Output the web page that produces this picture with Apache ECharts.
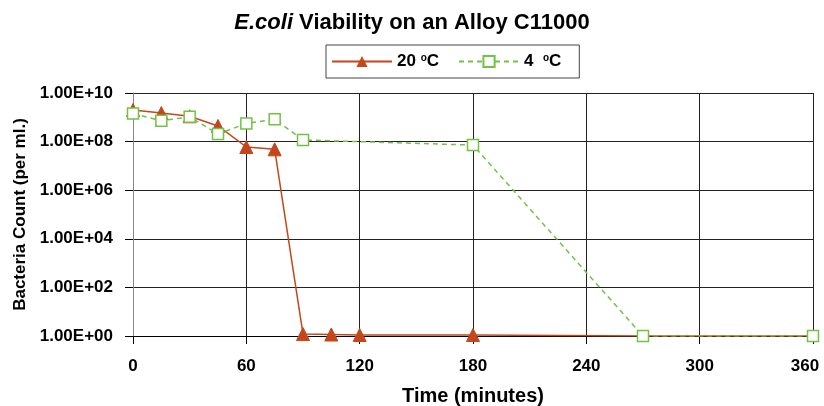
<!DOCTYPE html>
<html><head><meta charset="utf-8">
<script src="https://cdn.jsdelivr.net/npm/echarts@6/dist/echarts.min.js"></script>
<style>html,body{margin:0;padding:0;background:#fff}#c{width:824px;height:406px}</style>
</head><body><div id="c"></div>
<script>
const timesWarm = [0, 15, 30, 45, 60, 75, 90, 105, 120, 180, 270, 360];
const countsWarm = [2.0e9, 1.5e9, 1.1e9, 4.4e8, 6.0e7, 4.8e7, 1.2, 1.15, 1.1, 1.1, 1.0, 1.0];
const timesCold = [0, 15, 30, 45, 60, 75, 90, 180, 270, 360];
const countsCold = [1.45e9, 7.2e8, 1.05e9, 2.05e8, 5.6e8, 8.3e8, 1.17e8, 7.2e7, 1.0, 1.0];
const xTicks = [0, 60, 120, 180, 240, 300, 360];
const seriesNames = ['20 {s|o}C', '4  {s|o}C'];

const FONT = '"Liberation Sans", Arial, sans-serif';
const RED = '#C4471C';
const GREEN = '#72C245';

const chart = echarts.init(document.getElementById('c'), null, {renderer: 'canvas'});
const warmData = timesWarm.map((t, i) => {
  const item = {value: [t, countsWarm[i]]};
  if (t > 180) item.symbolSize = 0;
  return item;
});
const coldData = timesCold.map((t, i) => [t, countsCold[i]]);
const labelStyle = {fontFamily: FONT, fontSize: 17, fontWeight: 'bold', color: '#000'};

chart.setOption({
  animation: false,
  backgroundColor: '#fff',
  title: {
    text: '{i|E.coli} Viability on an Alloy C11000',
    left: 'center', top: 7,
    textStyle: {
      fontFamily: FONT, fontSize: 22, fontWeight: 'bold', color: '#000',
      rich: {i: {fontFamily: FONT, fontSize: 22, fontWeight: 'bold', fontStyle: 'italic', color: '#000'}}
    }
  },
  legend: {
    top: 45, left: 326,
    data: seriesNames,
    borderColor: '#444', borderWidth: 1, padding: [8, 18, 8, 5],
    itemGap: 19, itemWidth: 60, itemHeight: 14,
    textStyle: {
      fontFamily: FONT, fontSize: 17, fontWeight: 'bold', color: '#000',
      rich: {s: {fontFamily: FONT, fontSize: 10, fontWeight: 'bold', verticalAlign: 'top', lineHeight: 10, padding: [0, 0, 7, 0], color: '#000'}}
    }
  },
  grid: {left: 133, right: 11, top: 93, bottom: 70, containLabel: false, outerBoundsMode: 'none'},
  xAxis: {
    type: 'value', min: 0, max: 360, interval: 60,
    name: 'Time (minutes)', nameLocation: 'middle', nameGap: 50,
    nameTextStyle: {fontFamily: FONT, fontSize: 20, fontWeight: 'bold', color: '#000'},
    axisLine: {show: true, lineStyle: {color: '#000', width: 1}},
    axisTick: {show: true, length: 8, inside: false, lineStyle: {color: '#000'}},
    axisLabel: Object.assign({margin: 22, customValues: xTicks,
      formatter: v => (v === xTicks[xTicks.length - 1] ? '{r|' + v + '}' : String(v)),
      rich: {r: Object.assign({padding: [0, 16, 0, 0]}, labelStyle)}}, labelStyle),
    splitLine: {show: true, lineStyle: {color: '#222', width: 1}}
  },
  yAxis: {
    type: 'log', logBase: 10, min: 1, max: 1e10, interval: 2,
    name: 'Bacteria Count (per ml.)', nameLocation: 'middle', nameGap: 96, nameRotate: 90,
    nameTextStyle: {fontFamily: FONT, fontSize: 17, fontWeight: 'bold', color: '#000'},
    axisLine: {show: true, lineStyle: {color: '#888', width: 1}},
    axisTick: {show: true, length: 8, lineStyle: {color: '#000'}},
    axisLabel: Object.assign({margin: 20,
      formatter: v => {
        const e = Math.round(Math.log10(v));
        return '1.00E+' + (e < 10 ? '0' + e : e);
      }}, labelStyle),
    splitLine: {show: true, lineStyle: {color: '#222', width: 1}}
  },
  series: [
    {
      name: seriesNames[0], type: 'line', data: warmData,
      symbol: 'triangle', symbolSize: 13, z: 2,
      lineStyle: {color: RED, width: 1.5},
      itemStyle: {color: RED, borderColor: RED}
    },
    {
      name: seriesNames[1], type: 'line', data: coldData,
      symbol: 'rect', symbolSize: 11, z: 3,
      lineStyle: {color: GREEN, width: 1.5, type: [5, 4]},
      itemStyle: {color: '#fff', borderColor: GREEN, borderWidth: 1.5}
    }
  ]
});
</script></body></html>
